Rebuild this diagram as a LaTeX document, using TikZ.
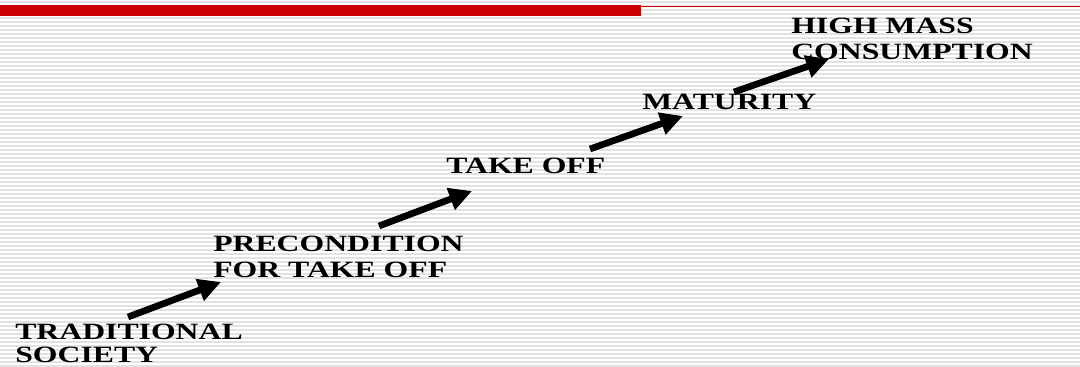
\documentclass[tikz,border=0pt]{standalone}
\usepackage{fontspec}
\usepackage{tikz}
\usetikzlibrary{arrows.meta, positioning}
\newfontfamily\stagefont{Liberation Serif}[FakeStretch=1.36]
\definecolor{barred}{HTML}{CC0000}
\definecolor{stripegray}{HTML}{E2E2E2}

\begin{document}
\begin{tikzpicture}[x=0.75pt, y=-0.75pt,
    stage/.style={anchor=base west, inner sep=0pt, align=left, font=\stagefont\bfseries\fontsize{17.5}{19.5}\selectfont},
    steparrow/.style={line width=5pt, -{Triangle[length=17pt, width=16.5pt]}}]
  \useasboundingbox (0,0) rectangle (1080,367);
  % Hintergrund
  \fill[white] (0,0) rectangle (1080,367);
  \foreach \y in {2,6,...,366}
    \draw[stripegray, line width=1.1pt] (0,\y) -- (1080,\y);
  % rote Leiste
  \fill[barred] (0,5) rectangle (641,16);
  \draw[barred, line width=1.3pt] (641,6.5) -- (1080,6.5);
  % Stufen (base = letzte Zeile)
  \node[stage, font=\stagefont\bfseries\fontsize{17.5}{17}\selectfont] (trad) at (15,362) {TRADITIONAL\\SOCIETY};
  \node[stage] (precond) at (213,277) {PRECONDITION\\FOR TAKE OFF};
  \node[stage] (takeoff) at (446,173) {TAKE OFF};
  \node[stage] (maturity) at (642,110) {MATURITY};
  \node[stage] (highmass) at (791,60) {HIGH MASS\\CONSUMPTION};
  % Pfeile
  \coordinate (a1s) at (128,317);
  \coordinate (a1e) at (221,282);
  \coordinate (a2s) at (379,226);
  \coordinate (a2e) at (472,191);
  \coordinate (a3s) at (590,149);
  \coordinate (a3e) at (683,116);
  \coordinate (a4s) at (734,92);
  \coordinate (a4e) at (829,59);
  \draw[steparrow] (a1s) -- (a1e);
  \draw[steparrow] (a2s) -- (a2e);
  \draw[steparrow] (a3s) -- (a3e);
  \draw[steparrow] (a4s) -- (a4e);
\end{tikzpicture}
\end{document}
